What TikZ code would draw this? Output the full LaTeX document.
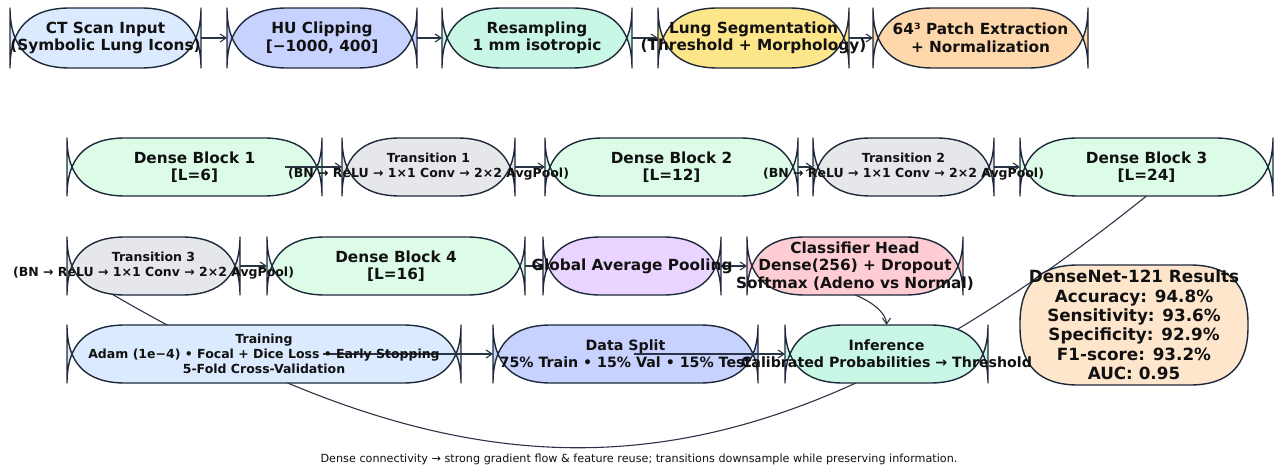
\documentclass[tikz,border=0pt]{standalone}
\usepackage{fontspec}
\setmainfont{DejaVu Sans}
\usepackage{tikz}
\usetikzlibrary{arrows.meta,backgrounds}

\pgfdeclarelayer{foreground}
\pgfsetlayers{background,main,foreground}

\definecolor{edgeink}{HTML}{1E293B}
\definecolor{arrowink}{HTML}{2B3446}
\definecolor{textink}{HTML}{111111}
\definecolor{ctfill}{HTML}{DBEAFE}
\definecolor{hufill}{HTML}{C7D2FE}
\definecolor{mintfill}{HTML}{C8F7E6}
\definecolor{segfill}{HTML}{FDE68A}
\definecolor{patchfill}{HTML}{FED7AA}
\definecolor{densefill}{HTML}{DCFCE7}
\definecolor{transfill}{HTML}{E5E7EB}
\definecolor{gapfill}{HTML}{E9D5FF}
\definecolor{headfill}{HTML}{FECDD3}
\definecolor{resultfill}{HTML}{FDE6CC}

% outline with quadratic corners: left, top, right, bottom, corner size
\providecommand{\blobpath}[5]{%
  ({#1+#5},{#4}) -- ({#3-#5},{#4})
  .. controls ({#3-#5/3},{#4}) and ({#3},{#4-#5/3}) .. ({#3},{#4-#5})
  -- ({#3},{#2+#5})
  .. controls ({#3},{#2+#5/3}) and ({#3-#5/3},{#2}) .. ({#3-#5},{#2})
  -- ({#1+#5},{#2})
  .. controls ({#1+#5/3},{#2}) and ({#1},{#2+#5/3}) .. ({#1},{#2+#5})
  -- ({#1},{#4-#5})
  .. controls ({#1},{#4-#5/3}) and ({#1+#5/3},{#4}) .. ({#1+#5},{#4}) -- cycle}

% [text style] name, x, y, width, height, fill, text
% labels go on the foreground layer so long lines stay readable
\providecommand{\flowbox}[8][]{%
  \pgfmathsetmacro{\bxL}{#3-#5/2}%
  \pgfmathsetmacro{\bxR}{#3+#5/2}%
  \pgfmathsetmacro{\bxT}{#4-#6/2}%
  \pgfmathsetmacro{\bxB}{#4+#6/2}%
  \filldraw[boxline,fill=#7] \blobpath{\bxL}{\bxT}{\bxR}{\bxB}{#6};
  \node[boxframe,minimum width=#5pt,minimum height=#6pt] (#2) at (#3,#4) {};
  \begin{pgfonlayer}{foreground}
  \node[boxtext,#1] (#2-lbl) at (#2.center) {#8};
  \end{pgfonlayer}
}

\tikzset{
  boxline/.style={draw=edgeink,line width=1.4pt,line join=round},
  boxframe/.style={rectangle,draw=none,inner sep=0pt,outer sep=0pt},
  boxtext/.style={text=textink,align=center,inner sep=0pt,
    font=\bfseries\fontsize{15.3}{17.5}\selectfont},
  smalltext/.style={font=\bfseries\fontsize{12.5}{15}\selectfont},
  midtext/.style={font=\bfseries\fontsize{14.2}{17}\selectfont},
  resulttext/.style={text=textink,align=center,inner sep=0pt,
    font=\bfseries\fontsize{16.8}{19.4}\selectfont},
  captiontext/.style={text=textink,inner sep=0pt,font=\fontsize{11.2}{13}\selectfont},
  flowarrow/.style={draw=arrowink,line width=1.1pt,
    -{Straight Barb[length=6pt,width=8pt]}}
}

\begin{document}
\begin{tikzpicture}[x=1pt,y=-1pt]
\useasboundingbox (0.000000,0.000000) rectangle (1278.000000,468.000000);
% Drawing boxes
% Row 1: preprocessing
\flowbox{ct}{105.500000}{38.000000}{191.000000}{60.000000}{ctfill}{CT Scan Input\\(Symbolic Lung Icons)}
\flowbox{hu}{322.000000}{38.000000}{190.000000}{60.000000}{hufill}{HU Clipping\\{[}−1000, 400{]}}
\flowbox{resamp}{537.000000}{38.000000}{190.000000}{60.000000}{mintfill}{Resampling\\1 mm isotropic}
\flowbox{lungseg}{753.500000}{38.000000}{191.000000}{60.000000}{segfill}{Lung Segmentation\\(Threshold + Morphology)}
\flowbox{patch}{980.500000}{38.000000}{215.000000}{60.000000}{patchfill}{64³ Patch Extraction\\+ Normalization}
% Row 2: dense blocks 1-3
\flowbox{db1}{194.500000}{167.000000}{255.000000}{58.000000}{densefill}{Dense Block 1\\{[}L=6{]}}
\flowbox[smalltext]{t1}{428.500000}{167.000000}{173.000000}{58.000000}{transfill}{Transition 1\\(BN → ReLU → 1×1 Conv → 2×2 AvgPool)}
\flowbox{db2}{671.500000}{167.000000}{253.000000}{58.000000}{densefill}{Dense Block 2\\{[}L=12{]}}
\flowbox[smalltext]{t2}{903.500000}{167.000000}{181.000000}{58.000000}{transfill}{Transition 2\\(BN → ReLU → 1×1 Conv → 2×2 AvgPool)}
\flowbox{db3}{1146.500000}{167.000000}{253.000000}{58.000000}{densefill}{Dense Block 3\\{[}L=24{]}}
% Row 3: block 4 and head
\flowbox[smalltext]{t3}{153.500000}{266.000000}{173.000000}{58.000000}{transfill}{Transition 3\\(BN → ReLU → 1×1 Conv → 2×2 AvgPool)}
\flowbox{db4}{396.000000}{266.000000}{258.000000}{58.000000}{densefill}{Dense Block 4\\{[}L=16{]}}
\flowbox{gap}{632.000000}{266.000000}{178.000000}{58.000000}{gapfill}{Global Average Pooling}
\flowbox{clf}{855.000000}{266.000000}{216.000000}{58.000000}{headfill}{Classifier Head\\Dense(256) + Dropout\\Softmax (Adeno vs Normal)}
% Row 4: training and evaluation
\flowbox[smalltext]{train}{264.000000}{354.000000}{394.000000}{58.000000}{ctfill}{Training\\Adam (1e−4) • Focal + Dice Loss • Early Stopping\\5-Fold Cross-Validation}
\flowbox[midtext]{split}{625.500000}{354.000000}{265.000000}{58.000000}{hufill}{Data Split\\75\% Train • 15\% Val • 15\% Test}
\flowbox[midtext]{inf}{886.500000}{354.000000}{203.000000}{58.000000}{mintfill}{Inference\\Calibrated Probabilities → Threshold}
% Results panel
\filldraw[boxline,fill=resultfill] \blobpath{1020.000000}{265.000000}{1248.000000}{385.000000}{58.000000};
\begin{pgfonlayer}{foreground}
\node[resulttext] (results) at (1134.000000,325.000000) {DenseNet-121 Results\\Accuracy: 94.8\%\\Sensitivity: 93.6\%\\Specificity: 92.9\%\\F1-score: 93.2\%\\AUC: 0.95};
\end{pgfonlayer}
% Done with boxes; drawing arrows
\draw[flowarrow] (ct.east) -- (hu.west);
\draw[flowarrow] (hu.east) -- (resamp.west);
\draw[flowarrow] (resamp.east) -- (lungseg.west);
\draw[flowarrow] (lungseg.east) -- (patch.west);
\draw[flowarrow] ([xshift=-37pt]db1.east) -- (t1.west);
\draw[flowarrow] (t1.east) -- (db2.west);
\draw[flowarrow] (db2.east) -- (t2.west);
\draw[flowarrow] (t2.east) -- (db3.west);
\draw[flowarrow] (t3.east) -- (db4.west);
\draw[flowarrow] (db4.east) -- (gap.west);
\draw[flowarrow] (gap.east) -- (clf.west);
\draw[flowarrow] ([xshift=-138pt]train.east) -- (split.west);
\draw[flowarrow] ([xshift=-124pt]split.east) -- (inf.west);
\draw[flowarrow] (clf.south) .. controls +(16,6) and +(0,-12) .. (inf.north);
% wrap from block 3 back to transition 3, runs under the boxes
\begin{scope}[on background layer]
\draw[flowarrow] (db3.south) .. controls +(-400,320) and +(400,240) .. ([shift={(-70.5,11)}]t3.center);
\end{scope}
% Done with arrows; drawing caption
\node[captiontext] (caption) at (639.000000,459.000000) {Dense connectivity → strong gradient flow \& feature reuse; transitions downsample while preserving information.};
\end{tikzpicture}
\end{document}
